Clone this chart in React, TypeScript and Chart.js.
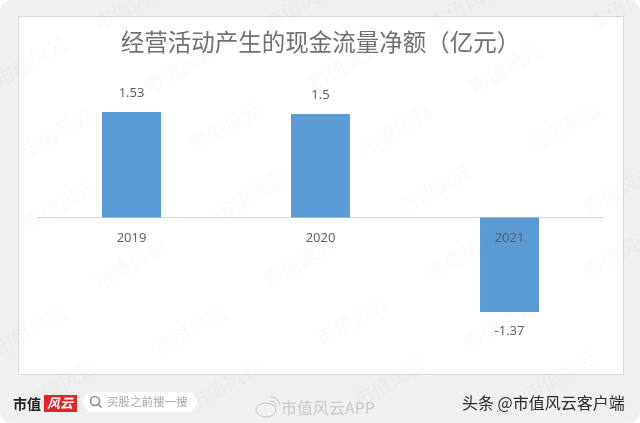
import React, { useEffect, useRef } from "react";
import { Chart, registerables } from "chart.js";

Chart.register(...registerables);

const categories = ["2019", "2020", "2021"];
const netCashFlow = [1.53, 1.5, -1.37];
const valueLabels = ["1.53", "1.5", "-1.37"];
const titleText = "经营活动产生的现金流量净额（亿元）";
const watermarkText = "市值风云";
const watermarkSpots = [
  [130, 5], [300, 5], [465, 5], [625, 5],
  [31, 62], [180, 68], [345, 65], [505, 68],
  [57, 133], [225, 127], [395, 130], [565, 127],
  [60, 205], [250, 195], [435, 190], [620, 190],
  [130, 265], [300, 262], [463, 255], [620, 253],
  [30, 330], [190, 330], [352, 320], [500, 325],
  [60, 385], [225, 385], [390, 382], [560, 375],
];

const CJK = '"Noto Sans CJK SC", "Noto Sans", sans-serif';
const LATIN = '"Open Sans", "Noto Sans", sans-serif';

function roundRect(ctx: CanvasRenderingContext2D, x: number, y: number, w: number, h: number, r: number) {
  ctx.beginPath();
  ctx.roundRect(x, y, w, h, r);
}

const frame = {
  id: "frame",
  beforeDraw(chart: any) {
    const ctx: CanvasRenderingContext2D = chart.ctx;
    ctx.save();
    ctx.fillStyle = "#ffffff";
    ctx.fillRect(0, 0, 640, 423);
    ctx.fillStyle = "#f0f0f0";
    roundRect(ctx, 0, 0, 640, 423, 12);
    ctx.fill();
    ctx.fillStyle = "#ffffff";
    ctx.strokeStyle = "#d9d9d9";
    ctx.lineWidth = 1;
    ctx.fillRect(18.5, 16.5, 605, 358);
    ctx.strokeRect(18.5, 16.5, 605, 358);

    ctx.textBaseline = "middle";
    ctx.textAlign = "left";
    ctx.fillStyle = "#222222";
    ctx.font = `bold 14px ${CJK}`;
    ctx.fillText("市值", 13, 404);
    ctx.fillStyle = "#e0262b";
    ctx.fillRect(44, 395, 33, 17);
    ctx.fillStyle = "#ffffff";
    ctx.font = `italic bold 13px ${CJK}`;
    ctx.fillText("风云", 47, 403);

    ctx.fillStyle = "#ffffff";
    roundRect(ctx, 83, 392, 114, 20, 10);
    ctx.fill();
    ctx.strokeStyle = "#8a8a8a";
    ctx.lineWidth = 1.6;
    ctx.beginPath();
    ctx.arc(95, 401, 4.5, 0, Math.PI * 2);
    ctx.moveTo(98.5, 404.5);
    ctx.lineTo(101.5, 407.5);
    ctx.stroke();
    ctx.fillStyle = "#a8a8a8";
    ctx.font = `11.5px ${CJK}`;
    ctx.fillText("买股之前搜一搜", 107, 402);

    ctx.strokeStyle = "#c4c4c4";
    ctx.lineWidth = 1;
    ctx.beginPath();
    ctx.ellipse(266, 410, 10, 7, 0, 0, Math.PI * 2);
    ctx.moveTo(270, 401);
    ctx.arc(271, 406, 5, -Math.PI / 2, 0);
    ctx.moveTo(270, 397);
    ctx.arc(271, 406, 9, -Math.PI / 2, 0);
    ctx.stroke();
    ctx.fillStyle = "#c9c9c9";
    ctx.font = `16px ${CJK}`;
    ctx.fillText("市值风云APP", 281, 408);

    ctx.fillStyle = "#2b2b2b";
    ctx.font = `16px ${CJK}`;
    ctx.fillText("头条 @市值风云客户端", 462, 403);
    ctx.restore();
  },
};

const valueLabelPlugin = {
  id: "valueLabels",
  afterDatasetsDraw(chart: any) {
    const ctx: CanvasRenderingContext2D = chart.ctx;
    const meta = chart.getDatasetMeta(0);
    ctx.save();
    ctx.fillStyle = "#595959";
    ctx.font = `13px ${LATIN}`;
    ctx.textAlign = "center";
    ctx.textBaseline = "middle";
    meta.data.forEach((bar: any, i: number) => {
      const offset = netCashFlow[i] >= 0 ? -18.5 : 19;
      ctx.fillText(valueLabels[i], bar.x, bar.y + offset);
    });
    ctx.restore();
  },
};

const watermark = {
  id: "watermark",
  afterDraw(chart: any) {
    const ctx: CanvasRenderingContext2D = chart.ctx;
    ctx.save();
    ctx.fillStyle = "rgba(120,120,120,0.045)";
    ctx.font = `20px ${CJK}`;
    ctx.textAlign = "center";
    ctx.textBaseline = "middle";
    watermarkSpots.forEach(([x, y]) => {
      ctx.save();
      ctx.translate(x, y);
      ctx.rotate((-30 * Math.PI) / 180);
      ctx.fillText(watermarkText, 0, 0);
      ctx.restore();
    });
    ctx.restore();
  },
};

export default function App() {
  const ref = useRef<HTMLCanvasElement>(null);
  useEffect(() => {
    document.body.style.margin = "0";
    const chart = new Chart(ref.current as HTMLCanvasElement, {
      type: "bar",
      data: {
        labels: categories,
        datasets: [
          {
            data: netCashFlow,
            backgroundColor: "#5b9bd5",
            barPercentage: 0.312,
            categoryPercentage: 1,
          },
        ],
      },
      plugins: [frame, valueLabelPlugin, watermark],
      options: {
        animation: false,
        responsive: false,
        devicePixelRatio: 1,
        layout: { padding: { left: 37, right: 36, top: 28, bottom: 67.5 } },
        plugins: {
          legend: { display: false },
          tooltip: { enabled: false },
          title: {
            display: true,
            text: titleText,
            color: "#707070",
            font: { family: CJK, size: 23.5, weight: "normal", lineHeight: 1.2 },
            padding: { top: 0, bottom: 23.3 },
          },
        },
        scales: {
          x: {
            position: { y: 0 },
            grid: { display: false },
            border: { display: true, color: "#d9d9d9", width: 1 },
            ticks: { color: "#595959", font: { family: LATIN, size: 13 }, padding: 5, z: 1, maxRotation: 0 },
          },
          y: {
            display: false,
            min: -2,
            max: 2,
          },
        },
      } as any,
    });
    return () => chart.destroy();
  }, []);
  return (
    <canvas
      ref={ref}
      width={640}
      height={423}
      style={{ display: "block", width: 640, height: 423 }}
    />
  );
}
